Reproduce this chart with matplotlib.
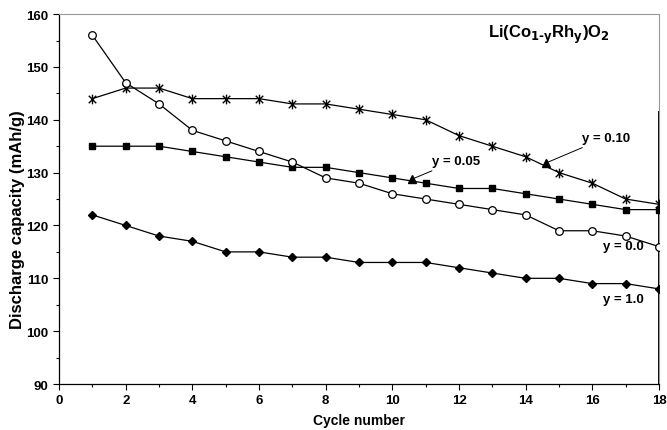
import matplotlib
matplotlib.use('Agg')
import matplotlib.pyplot as plt
from matplotlib.path import Path
from matplotlib.ticker import MultipleLocator

plt.rcParams['font.family'] = ['Liberation Sans', 'DejaVu Sans']
plt.rcParams['font.weight'] = 'bold'

cycles = list(range(1, 19))
cap_y000 = [156, 147, 143, 138, 136, 134, 132, 129, 128, 126, 125, 124, 123, 122, 119, 119, 118, 116]
cap_y010 = [144, 146, 146, 144, 144, 144, 143, 143, 142, 141, 140, 137, 135, 133, 130, 128, 125, 124]
cap_y005 = [135, 135, 135, 134, 133, 132, 131, 131, 130, 129, 128, 127, 127, 126, 125, 124, 123, 123]
cap_y100 = [122, 120, 118, 117, 115, 115, 114, 114, 113, 113, 113, 112, 111, 110, 110, 109, 109, 108]

# label text position, arrow tip (triangle) position
labels = ['y = 0.05', 'y = 0.10']
label_xy = [(11.9, 132.2), (16.4, 136.6)]
tip_xy = [(10.6, 128.8), (14.6, 131.8)]

# Excel-style asterisk marker
star = Path([(-1, -1), (1, 1), (-1, 1), (1, -1), (0, -1.3), (0, 1.3)],
            [Path.MOVETO, Path.LINETO, Path.MOVETO, Path.LINETO, Path.MOVETO, Path.LINETO])

fig = plt.figure(figsize=(6.67, 4.31), dpi=100)
ax = fig.add_axes([0.0885, 0.1067, 0.8995, 0.8583])

lw = 0.9
ax.plot(cycles, cap_y010, color='black', lw=lw, marker=star, ms=7, mew=1.0, zorder=3)
ax.plot(cycles, cap_y005, color='black', lw=lw, marker='s', ms=5, zorder=3)
ax.plot(cycles, cap_y000, color='black', lw=lw, marker='o', ms=5.5, mfc='white', mew=0.9, zorder=3)
ax.plot(cycles, cap_y100, color='black', lw=lw, marker='D', ms=4.5, zorder=3)

for lab, (tx, ty), (px, py) in zip(labels, label_xy, tip_xy):
    ax.annotate(lab, xy=(px, py), xytext=(tx, ty), fontsize=9.5, fontweight='bold',
                ha='center', va='center',
                arrowprops=dict(arrowstyle='-', color='black', lw=0.7, shrinkA=2, shrinkB=0))
    ax.plot([px], [py], marker='^', color='black', ms=6, zorder=4)

ax.text(17.55, 116.1, 'y = 0.0', fontsize=9.5, fontweight='bold', ha='right', va='center')
ax.text(17.55, 106.1, 'y = 1.0', fontsize=9.5, fontweight='bold', ha='right', va='center')
ax.text(14.7, 156.3, r'Li(Co$_{\mathbf{1\text{-}y}}$Rh$_{\mathbf{y}}$)O$_{\mathbf{2}}$',
        fontsize=12, fontweight='bold', ha='center', va='center')

ax.set_xlim(0, 18)
ax.set_ylim(90, 160)
ax.xaxis.set_major_locator(MultipleLocator(2))
ax.xaxis.set_minor_locator(MultipleLocator(1))
ax.yaxis.set_major_locator(MultipleLocator(10))
ax.yaxis.set_minor_locator(MultipleLocator(5))
ax.tick_params(which='both', direction='out', labelsize=9.5, width=0.8)
ax.tick_params(which='major', length=4)
ax.tick_params(which='minor', length=2.5)
for t in ax.get_xticklabels() + ax.get_yticklabels():
    t.set_fontweight('bold')

ax.set_xlabel('Cycle number', fontsize=10, fontweight='bold', labelpad=5)
ax.set_ylabel('Discharge capacity (mAh/g)', fontsize=12, fontweight='bold')
ax.yaxis.set_label_coords(-0.057, 0.446)

ax.spines['top'].set_color('#999999')
ax.spines['right'].set_color('#999999')
ax.spines['left'].set_linewidth(0.9)
ax.spines['bottom'].set_linewidth(0.9)
ax.axvline(18, ymin=0, ymax=(141.5 - 90) / 70, color='black', lw=1.4, zorder=2)

fig.savefig('out.png', dpi=100)
